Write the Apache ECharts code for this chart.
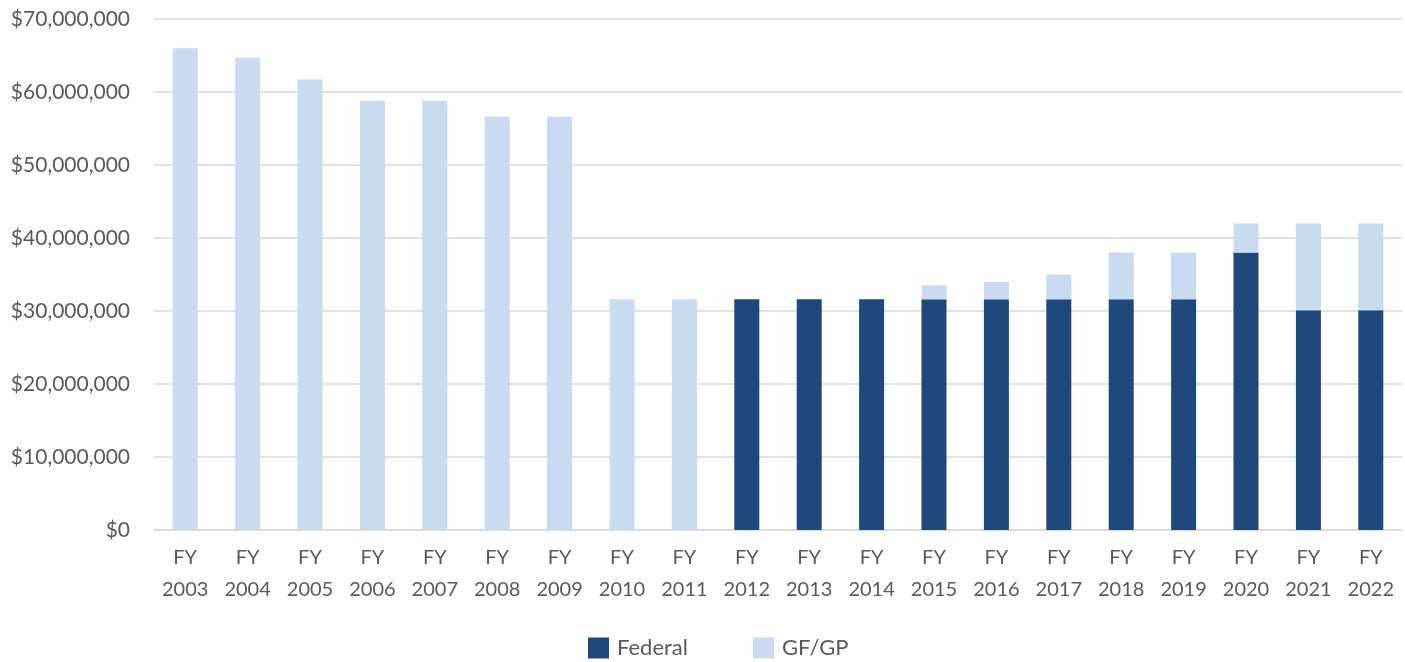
<!DOCTYPE html>
<html>
<head>
<meta charset="utf-8">
<script src="https://cdn.jsdelivr.net/npm/echarts@6/dist/echarts.min.js"></script>
<style>
  html, body { margin: 0; padding: 0; background: #fff; }
  #chart { width: 1405px; height: 662px; }
</style>
</head>
<body>
<div id="chart"></div>
<script>
// values in $ millions
const years = ['2003','2004','2005','2006','2007','2008','2009','2010','2011','2012',
  '2013','2014','2015','2016','2017','2018','2019','2020','2021','2022'];
const federal = [0,0,0,0,0,0,0,0,0,31.6,31.6,31.6,31.6,31.6,31.6,31.6,31.6,38.0,30.1,30.1];
const gfgp = [66.0,64.7,61.7,58.8,58.8,56.6,56.6,31.6,31.6,0,0,0,1.9,2.4,3.4,6.4,6.4,4.0,11.9,11.9];
const yTicks = [0,10,20,30,40,50,60,70];

const categories = years.map(y => 'FY\n' + y);
const font = 'Lato, "Open Sans", sans-serif';

function money(v) {
  return '$' + (v * 1000000).toLocaleString('en-US');
}

const chart = echarts.init(document.getElementById('chart'));
chart.setOption({
  animation: false,
  textStyle: { fontFamily: font },
  grid: { left: 154, right: 3, top: 19, bottom: 132 },
  legend: {
    left: 588,
    top: 637,
    padding: 0,
    itemWidth: 21,
    itemHeight: 21,
    itemGap: 65,
    icon: 'rect',
    selectedMode: false,
    textStyle: { fontSize: 22, color: '#595959', fontFamily: font, padding: [0, 0, 0, 3] },
    data: ['Federal', 'GF/GP']
  },
  xAxis: {
    type: 'category',
    data: categories,
    axisTick: { show: false },
    axisLine: { lineStyle: { color: '#d9d9d9', width: 1.5 } },
    axisLabel: {
      color: '#595959',
      fontSize: 20,
      lineHeight: 32,
      margin: 12,
      interval: 0
    }
  },
  yAxis: {
    type: 'value',
    min: yTicks[0],
    max: yTicks[yTicks.length - 1],
    interval: 10,
    axisLine: { show: false },
    axisTick: { show: false },
    axisLabel: {
      color: '#595959',
      fontSize: 21,
      margin: 24,
      formatter: v => money(v)
    },
    splitLine: { lineStyle: { color: '#d9d9d9', width: 1.5 } }
  },
  series: [
    {
      name: 'Federal',
      type: 'bar',
      stack: 'total',
      barWidth: 25,
      data: federal,
      itemStyle: { color: '#1F497D' }
    },
    {
      name: 'GF/GP',
      type: 'bar',
      stack: 'total',
      barWidth: 25,
      data: gfgp,
      itemStyle: { color: '#C9DBF1' }
    }
  ]
});
</script>
</body>
</html>
